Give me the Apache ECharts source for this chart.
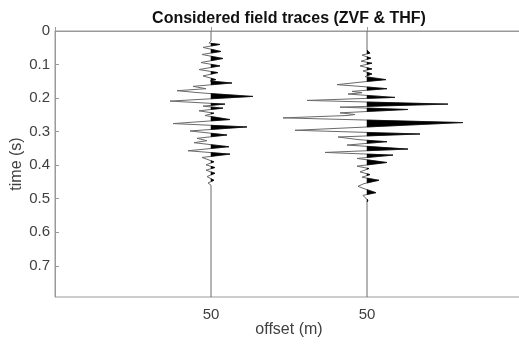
<!DOCTYPE html>
<html><head><meta charset="utf-8">
<script src="https://cdn.jsdelivr.net/npm/echarts@6/dist/echarts.min.js"></script>
<style>html,body{margin:0;padding:0;background:#fff}#c{width:519px;height:345px}</style>
</head><body><div id="c"></div>
<script>
// Trace positions on the offset axis and their tick labels
const traceOffsets = [1, 2];
const offsetLabels = ['50', '50'];
const recordLength = 0.793; // s
const gain = 1 / 156;       // amplitude -> offset-axis units

// Trace 1 (ZVF): extrema times (s) and amplitudes
const trace1Time = [0.030,0.036,0.040,0.049,0.061,0.070,0.082,0.094,0.104,0.115,0.124,0.134,0.145,0.149,0.155,0.165,0.172,0.178,0.185,0.195,0.209,0.218,0.224,0.230,0.238,0.245,0.252,0.264,0.276,0.286,0.298,0.310,0.320,0.327,0.333,0.345,0.357,0.367,0.377,0.390,0.399,0.407,0.415,0.424,0.434,0.445,0.453,0.460];
const trace1Amp  = [0,-2,9,-8,10,-9,12,-10,9,-12,7,-8,5,-1,21,-18,-5,-34,-8,42,-41,14,-8,12,-12,3,-6,19,-38,36,-21,16,-14,-4,-17,18,-23,19,-9,3,-5,4,-5,4,-4,3,-3,0];

// Trace 2 (THF)
const trace2Time = [0.057,0.066,0.072,0.081,0.090,0.096,0.104,0.113,0.119,0.128,0.136,0.145,0.152,0.160,0.166,0.172,0.180,0.184,0.188,0.198,0.207,0.218,0.227,0.234,0.244,0.249,0.252,0.259,0.273,0.296,0.307,0.316,0.324,0.330,0.340,0.352,0.362,0.370,0.380,0.392,0.403,0.410,0.420,0.428,0.436,0.445,0.455,0.463,0.470,0.482,0.490,0.497,0.504,0.510];
const trace2Amp  = [0,3,-5,4,-6,5,-7,5,-4,5,-2,19,-5,-30,-3,20,-15,-5,-19,28,-60,81,-27,41,-27,-12,-20,-84,96,-72,53,-29,-8,20,-20,41,-42,26,-10,20,-10,2,-7,3,-5,12,-3,-9,-3,9,-4,-2,1,0];

const traces = [
  {pos: traceOffsets[0], time: trace1Time, amp: trace1Amp},
  {pos: traceOffsets[1], time: trace2Time, amp: trace2Amp}
];

function wiggleData(tr) {
  const d = [[tr.pos, 0]];
  for (let i = 0; i < tr.time.length; i++) d.push([tr.pos + tr.amp[i] * gain, tr.time[i]]);
  d.push([tr.pos, recordLength]);
  return d;
}

const txt = '#404040';
const axisCol = '#9a9a9a';
const font = 'Liberation Sans, Arial, sans-serif';
const chart = echarts.init(document.getElementById('c'), null, {renderer: 'canvas'});
chart.setOption({
  animation: false,
  backgroundColor: '#fff',
  title: {
    text: 'Considered field traces (ZVF & THF)',
    left: 289, top: 11, textAlign: 'center', padding: 0,
    textStyle: {fontFamily: font, fontSize: 16, fontWeight: 'bold', color: '#111'}
  },
  grid: {left: 55, top: 31, right: -4, bottom: 48, show: true, borderColor: axisCol, borderWidth: 1,
         containLabel: false, outerBoundsMode: 'none'},
  xAxis: {
    type: 'value', min: 0, max: 3, interval: 1,
    name: 'offset (m)', nameLocation: 'middle', nameGap: 25, nameMoveOverlap: false,
    nameTextStyle: {fontFamily: font, fontSize: 16, color: txt},
    axisLine: {lineStyle: {color: axisCol}},
    axisTick: {inside: true, length: 4, lineStyle: {color: axisCol}},
    splitLine: {show: false},
    axisLabel: {
      margin: 10, fontFamily: font, fontSize: 15, color: txt,
      formatter: v => { const k = traceOffsets.indexOf(v); return k >= 0 ? offsetLabels[k] : ''; }
    }
  },
  yAxis: {
    type: 'value', inverse: true, min: 0, max: recordLength, interval: 0.1,
    name: 'time (s)', nameLocation: 'middle', nameGap: 30, nameMoveOverlap: false,
    nameTextStyle: {fontFamily: font, fontSize: 16, color: txt},
    axisLine: {show: true, lineStyle: {color: axisCol}},
    axisTick: {inside: true, length: 4, lineStyle: {color: axisCol}},
    splitLine: {show: false},
    axisLabel: {margin: 5, showMaxLabel: false, fontFamily: font, fontSize: 15, color: txt}
  },
  series: [
    ...traces.map(tr => ({
      type: 'line', data: wiggleData(tr), showSymbol: false, symbol: 'none', silent: true, z: 2,
      lineStyle: {color: '#6a6a6a', width: 1}
    })),
    {
      type: 'custom', z: 3, silent: true,
      data: traces.map((tr, i) => [tr.pos, 0, i]),
      renderItem: function (params, api) {
        const tr = traces[params.dataIndex];
        const polys = [];
        let cur = null;
        for (let i = 0; i < tr.time.length; i++) {
          const a = tr.amp[i], t = tr.time[i];
          if (a > 0) {
            if (!cur) {
              const ap = tr.amp[i - 1], tp = tr.time[i - 1];
              const tc = tp + (t - tp) * (0 - ap) / (a - ap);
              cur = [api.coord([tr.pos, tc])];
            }
            cur.push(api.coord([tr.pos + a * gain, t]));
          } else if (cur) {
            const ap = tr.amp[i - 1], tp = tr.time[i - 1];
            const tc = tp + (t - tp) * ap / (ap - a);
            cur.push(api.coord([tr.pos, tc]));
            polys.push(cur);
            cur = null;
          }
        }
        return {
          type: 'group',
          children: polys.map(p => ({type: 'polygon', shape: {points: p}, style: {fill: '#000', stroke: '#000', lineWidth: 0.5}}))
        };
      }
    }
  ]
});
</script>
</body></html>
